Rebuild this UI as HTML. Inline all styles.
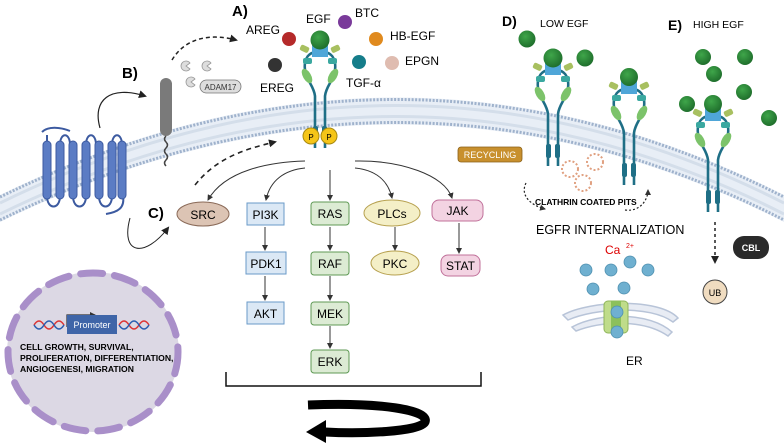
<!DOCTYPE html>
<html><head><meta charset="utf-8"><style>
html,body{margin:0;padding:0;background:#fff}
svg{display:block}
text{font-family:"Liberation Sans",sans-serif}
</style></head><body>
<svg width="784" height="443" viewBox="0 0 784 443" xmlns="http://www.w3.org/2000/svg">
<defs>
<marker id="ah" markerWidth="8" markerHeight="8" refX="6" refY="4" orient="auto" markerUnits="userSpaceOnUse"><path d="M0,0 L8,4 L0,8 Z" fill="#222"/></marker>
<marker id="ahs" markerWidth="6" markerHeight="6" refX="5" refY="3" orient="auto" markerUnits="userSpaceOnUse"><path d="M0,0 L6,3 L0,6 Z" fill="#333"/></marker>
<g id="rec">
  <path d="M-5,12 C-14,14 -16,22 -15,30 C-14,40 -6,46 -5,56 L-5,108" fill="none" stroke="#1f6f86" stroke-width="2.6"/>
  <path d="M5,12 C14,14 16,22 15,30 C14,40 6,46 5,56 L5,108" fill="none" stroke="#1f6f86" stroke-width="2.6"/>
  <rect x="-8" y="3" width="16" height="14" fill="#4fa6d8"/>
  <rect x="-20" y="6" width="9" height="6" rx="2" fill="#a8c060" transform="rotate(25 -15 9)"/>
  <rect x="11" y="6" width="9" height="6" rx="2" fill="#a8c060" transform="rotate(-25 15 9)"/>
  <rect x="-17" y="18" width="9" height="6" rx="2" fill="#3aa8a0"/>
  <rect x="8" y="18" width="9" height="6" rx="2" fill="#3aa8a0"/>
  <ellipse cx="-13" cy="36" rx="4" ry="8" fill="#7cc36a" transform="rotate(-30 -13 36)"/>
  <ellipse cx="13" cy="36" rx="4" ry="8" fill="#7cc36a" transform="rotate(30 13 36)"/>
  <rect x="-7" y="86" width="5" height="14" rx="2" fill="#1f6f86"/>
  <rect x="2" y="86" width="5" height="14" rx="2" fill="#1f6f86"/>
</g>
<radialGradient id="gb" cx="0.4" cy="0.35" r="0.7"><stop offset="0" stop-color="#3fa64a"/><stop offset="1" stop-color="#1d6b2a"/></radialGradient>
</defs>

<!-- membrane -->
<path d="M0,195 Q400,0 784,195 L784,222 Q400,27 0,222 Z" fill="#e8eef6"/>
<path d="M0,197 Q400,2 784,197" fill="none" stroke="#9fb2cc" stroke-width="3" stroke-dasharray="2,1.5"/>
<path d="M0,220 Q400,25 784,220" fill="none" stroke="#9fb2cc" stroke-width="3" stroke-dasharray="2,1.5"/>
<path d="M0,203 Q400,8 784,203" fill="none" stroke="#d4deea" stroke-width="3"/>
<path d="M0,214 Q400,19 784,214" fill="none" stroke="#d4deea" stroke-width="3"/>

<!-- GPCR -->
<g fill="none" stroke="#3c5aa0" stroke-width="2">
<path d="M42,132 C48,126 60,127 70,131"/>
<path d="M47,145 L47,135 M60,145 C60,132 70,132 70,145 M86,145 C86,132 96,132 96,145 M112,145 C112,132 122,132 122,145"/>
<path d="M47,196 C47,210 60,210 60,196 M73,196 C73,210 86,210 86,196 M99,196 C99,210 112,210 112,196"/>
<path d="M123,196 C125,208 118,212 106,214"/>
</g>
<g fill="#5b7cc4" stroke="#3c5aa0" stroke-width="1">
<rect x="43" y="141" width="8" height="58" rx="4"/><rect x="56" y="141" width="8" height="58" rx="4"/>
<rect x="69" y="141" width="8" height="58" rx="4"/><rect x="82" y="141" width="8" height="58" rx="4"/>
<rect x="95" y="141" width="8" height="58" rx="4"/><rect x="108" y="141" width="8" height="58" rx="4"/><rect x="118" y="141" width="8" height="58" rx="4"/>
</g>
<path d="M100,128 C92,100 110,85 145,96" fill="none" stroke="#222" stroke-width="1.2" marker-end="url(#ah)"/>

<!-- B ADAM17 -->
<rect x="160" y="78" width="12" height="58" rx="6" fill="#7a7a7a"/>
<path d="M166,136 q-3,3 0,6 q3,3 0,6 q-3,3 0,6 q3,3 0,6 q-3,3 0,6" fill="none" stroke="#444" stroke-width="1.5"/>
<path d="M172,60 C185,38 210,33 236,40" fill="none" stroke="#222" stroke-width="1.5" stroke-dasharray="4,3" marker-end="url(#ah)"/>
<g fill="#ddd" stroke="#999" stroke-width="0.8">
<path d="M185,66 m5,-3 a5,5 0 1 0 0,6 l-4,-3 z"/>
<path d="M206,66 m5,-3 a5,5 0 1 0 0,6 l-4,-3 z"/>
<path d="M190,82 m5,-3 a5,5 0 1 0 0,6 l-4,-3 z"/>
</g>
<rect x="200" y="80" width="41" height="13" rx="6.5" fill="#ddd" stroke="#777" stroke-width="0.8"/>
<text x="220.5" y="90" font-size="8" text-anchor="middle" fill="#333">ADAM17</text>
<text x="122" y="78" font-size="15" font-weight="bold">B)</text>
<text x="232" y="16" font-size="15" font-weight="bold">A)</text>
<text x="148" y="218" font-size="15" font-weight="bold">C)</text>

<!-- ligands -->
<text x="246" y="34" font-size="12">AREG</text>
<circle cx="289" cy="39" r="7" fill="#b52a2a"/>
<text x="306" y="23" font-size="12">EGF</text>
<circle cx="345" cy="22" r="7" fill="#7a3a9a"/>
<text x="355" y="17" font-size="12">BTC</text>
<circle cx="376" cy="39" r="7" fill="#e08a1e"/>
<text x="390" y="40" font-size="12">HB-EGF</text>
<circle cx="392" cy="63" r="7" fill="#dfbcb0"/>
<text x="405" y="65" font-size="12">EPGN</text>
<circle cx="359" cy="62" r="7" fill="#157d8a"/>
<text x="346" y="87" font-size="12">TGF-α</text>
<circle cx="275" cy="65" r="7" fill="#333"/>
<text x="260" y="92" font-size="12">EREG</text>

<!-- receptor A -->
<use href="#rec" x="320" y="40"/>
<circle cx="320" cy="40" r="9.5" fill="url(#gb)"/>
<circle cx="311" cy="136" r="8" fill="#f5c518" stroke="#a88a10" stroke-width="1"/>
<circle cx="329" cy="136" r="8" fill="#f5c518" stroke="#a88a10" stroke-width="1"/>
<text x="311" y="140" font-size="8" text-anchor="middle">P</text>
<text x="329" y="140" font-size="8" text-anchor="middle">P</text>
<path d="M195,185 C215,160 240,150 275,142" fill="none" stroke="#222" stroke-width="1.6" stroke-dasharray="5,4" marker-end="url(#ah)"/>

<!-- signal arrows -->
<g fill="none" stroke="#333" stroke-width="1" marker-end="url(#ahs)">
<path d="M305,161 C270,162 225,170 208,200"/>
<path d="M305,168 C285,170 270,180 266,200"/>
<path d="M330,170 L330,200"/>
<path d="M355,168 C375,170 388,180 392,198"/>
<path d="M355,161 C400,160 445,175 452,198"/>
<path d="M265,227 L265,250"/><path d="M265,276 L265,300"/>
<path d="M330,227 L330,250"/><path d="M330,276 L330,300"/><path d="M330,326 L330,348"/>
<path d="M395,227 L395,250"/><path d="M459,223 L459,253"/>
</g>
<path d="M130,218 C120,255 145,258 168,228" fill="none" stroke="#222" stroke-width="1" marker-end="url(#ah)"/>

<!-- nodes -->
<ellipse cx="203" cy="214" rx="26" ry="12" fill="#dcc4b4" stroke="#8a6a58"/>
<text x="203" y="219" font-size="12" text-anchor="middle">SRC</text>
<g fill="#dbe8f5" stroke="#6a9ac8">
<rect x="247" y="203" width="37" height="22"/><rect x="246" y="252" width="40" height="22"/><rect x="247" y="302" width="37" height="22"/>
</g>
<text x="265.5" y="219" font-size="12" text-anchor="middle">PI3K</text>
<text x="266" y="268" font-size="12" text-anchor="middle">PDK1</text>
<text x="265.5" y="318" font-size="12" text-anchor="middle">AKT</text>
<g fill="#dcebd4" stroke="#5f9a55">
<rect x="311" y="202" width="38" height="23" rx="3"/><rect x="311" y="252" width="38" height="23" rx="3"/><rect x="311" y="302" width="38" height="23" rx="3"/><rect x="311" y="350" width="38" height="23" rx="3"/>
</g>
<text x="330" y="218" font-size="12" text-anchor="middle">RAS</text>
<text x="330" y="268" font-size="12" text-anchor="middle">RAF</text>
<text x="330" y="318" font-size="12" text-anchor="middle">MEK</text>
<text x="330" y="366" font-size="12" text-anchor="middle">ERK</text>
<ellipse cx="392" cy="213" rx="28" ry="13" fill="#f4efc7" stroke="#b7a150"/>
<text x="392" y="218" font-size="12" text-anchor="middle">PLCs</text>
<ellipse cx="395" cy="263" rx="24" ry="12" fill="#f4efc7" stroke="#b7a150"/>
<text x="395" y="268" font-size="12" text-anchor="middle">PKC</text>
<rect x="432" y="200" width="51" height="21" rx="7" fill="#f3d3e2" stroke="#c0709a"/>
<text x="457.5" y="215" font-size="12" text-anchor="middle">JAK</text>
<rect x="441" y="255" width="39" height="21" rx="7" fill="#f3d3e2" stroke="#c0709a"/>
<text x="460.5" y="270" font-size="12" text-anchor="middle">STAT</text>

<!-- bracket & big arrow -->
<path d="M226,372 L226,386 L481,386 L481,372" fill="none" stroke="#111" stroke-width="1.5"/>
<path d="M308,405 C380,402 430,410 425,422 C420,432 360,434 325,432" fill="none" stroke="#000" stroke-width="9"/>
<path d="M306,432 L326,420 L326,443 Z" fill="#000"/>

<!-- nucleus -->
<ellipse cx="93" cy="352" rx="86" ry="80" fill="#dcd8e4"/>
<ellipse cx="93" cy="352" rx="85" ry="79" fill="none" stroke="#a98fc9" stroke-width="7" stroke-linecap="round" stroke-dasharray="22,12"/>
<path d="M67,327 L67,315 L95,315" fill="none" stroke="#333" stroke-width="1.2" marker-end="url(#ahs)"/>
<path d="M34,325 q5,-8 10,0 t10,0 t10,0 M119,325 q5,-8 10,0 t10,0 t10,0" fill="none" stroke="#d33" stroke-width="1.5"/>
<path d="M34,325 q5,8 10,0 t10,0 t10,0 M119,325 q5,8 10,0 t10,0 t10,0" fill="none" stroke="#2a5db0" stroke-width="1.5"/>
<rect x="67" y="315" width="50" height="19" fill="#3f65a8"/>
<text x="92" y="328" font-size="9" fill="#fff" text-anchor="middle">Promoter</text>
<text x="20" y="350" font-size="8.6" font-weight="bold">CELL GROWTH, SURVIVAL,</text>
<text x="20" y="361" font-size="8.6" font-weight="bold">PROLIFERATION, DIFFERENTIATION,</text>
<text x="20" y="372" font-size="8.6" font-weight="bold">ANGIOGENESI, MIGRATION</text>

<!-- recycling -->
<rect x="458" y="147" width="64" height="15" rx="3" fill="#c8902e" stroke="#8a6018" stroke-width="0.8"/>
<text x="490" y="158" font-size="9" fill="#fff" text-anchor="middle">RECYCLING</text>

<!-- D -->
<text x="502" y="26" font-size="14" font-weight="bold">D)</text>
<text x="540" y="27" font-size="10.5">LOW EGF</text>
<circle cx="527" cy="39" r="8.5" fill="url(#gb)"/>
<circle cx="585" cy="58" r="8.5" fill="url(#gb)"/>
<use href="#rec" x="553" y="58"/>
<circle cx="553" cy="58" r="9.5" fill="url(#gb)"/>
<use href="#rec" x="629" y="77"/>
<circle cx="629" cy="77" r="9" fill="url(#gb)"/>
<g fill="#fff" stroke="#e0a080" stroke-width="2" stroke-dasharray="2,2">
<circle cx="570" cy="169" r="8"/><circle cx="595" cy="162" r="8"/><circle cx="583" cy="183" r="8"/>
</g>
<path d="M526,183 C520,195 530,205 545,209" fill="none" stroke="#222" stroke-width="1.2" stroke-dasharray="2,2" marker-end="url(#ahs)"/>
<path d="M625,210 C640,212 648,200 648,190" fill="none" stroke="#222" stroke-width="1.2" stroke-dasharray="2,2" marker-end="url(#ahs)"/>
<text x="535" y="205" font-size="8.5" font-weight="bold">CLATHRIN COATED PITS</text>
<text x="536" y="234" font-size="12.5">EGFR INTERNALIZATION</text>
<text x="605" y="254" font-size="12" fill="#d00">Ca</text>
<text x="626" y="248" font-size="7" fill="#d00">2+</text>
<g fill="#e8ecf4" stroke="#b8c4d8" stroke-width="1.5">
<path d="M563,315 C590,300 660,298 678,318 L673,322 C650,305 595,308 568,320 Z"/>
<path d="M572,327 C600,312 650,312 672,332 L668,336 C645,320 605,320 576,331 Z"/>
</g>
<rect x="604" y="301" width="24" height="32" rx="4" fill="#bfdc8a" stroke="#8fb55a"/>
<rect x="611" y="301" width="10" height="32" fill="#8cc05a"/>
<g fill="#6fb0d0" stroke="#4f90b0" stroke-width="0.8">
<circle cx="586" cy="270" r="6"/><circle cx="611" cy="270" r="6"/><circle cx="630" cy="262" r="6"/><circle cx="648" cy="270" r="6"/>
<circle cx="593" cy="289" r="6"/><circle cx="624" cy="288" r="6"/><circle cx="617" cy="312" r="6"/><circle cx="617" cy="332" r="6"/>
</g>
<text x="626" y="365" font-size="12">ER</text>

<!-- E -->
<text x="668" y="30" font-size="14" font-weight="bold">E)</text>
<text x="693" y="28" font-size="10.5">HIGH EGF</text>
<g fill="url(#gb)">
<circle cx="703" cy="57" r="8"/><circle cx="745" cy="57" r="8"/><circle cx="714" cy="74" r="8"/><circle cx="744" cy="92" r="8"/><circle cx="687" cy="104" r="8"/><circle cx="769" cy="118" r="8"/>
</g>
<use href="#rec" x="713" y="104"/>
<circle cx="713" cy="104" r="9" fill="url(#gb)"/>
<path d="M715,222 L715,262" fill="none" stroke="#222" stroke-width="1.5" stroke-dasharray="3,3" marker-end="url(#ah)"/>
<rect x="733" y="236" width="36" height="23" rx="11" fill="#2a2a2a"/>
<text x="751" y="251" font-size="9" fill="#fff" text-anchor="middle" font-weight="bold">CBL</text>
<circle cx="715" cy="292" r="12" fill="#f0dcc0" stroke="#444" stroke-width="1"/>
<text x="715" y="296" font-size="9" text-anchor="middle">UB</text>
</svg>
</body></html>
